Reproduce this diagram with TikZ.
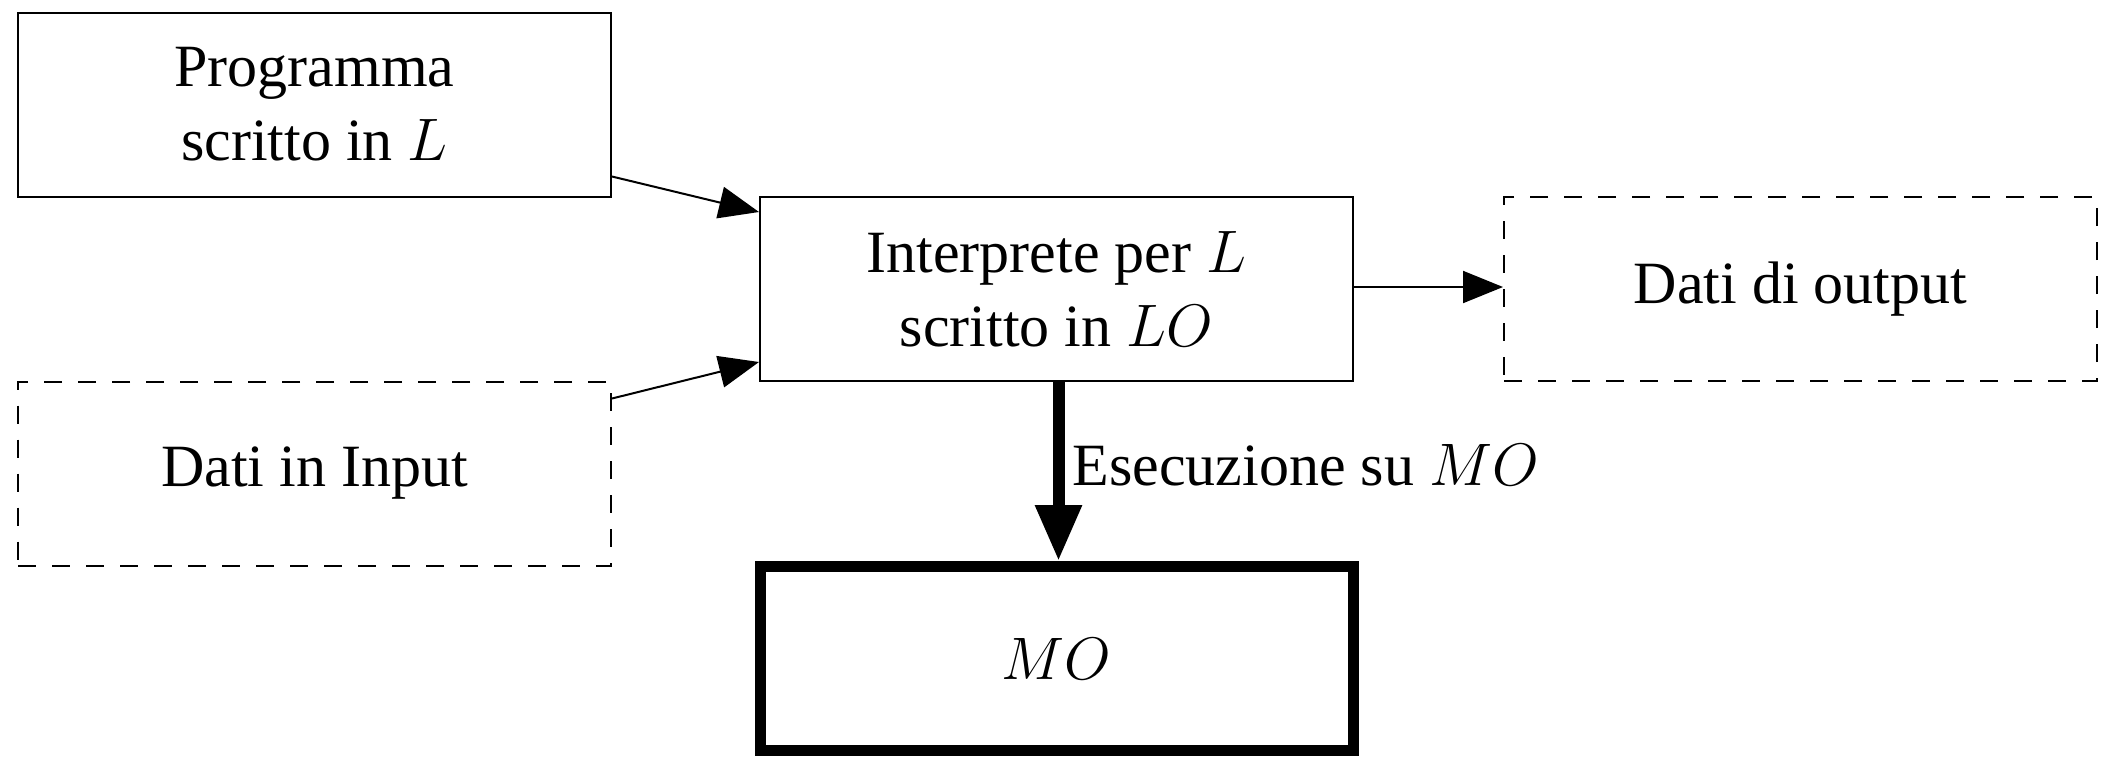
\RequirePackage{fix-cm}
\documentclass[tikz,border=0pt]{standalone}
\usepackage{fontspec}
\setmainfont{Liberation Serif}
\usetikzlibrary{arrows.meta}
\begin{document}
\begin{tikzpicture}[x=0.5pt,y=-0.5pt,
  box/.style={draw, line width=1pt, minimum width=296.5pt, minimum height=92pt, inner sep=0pt, align=center,
    font=\fontsize{30}{37}\selectfont},
  dbox/.style={box, dash pattern=on 9pt off 8pt},
  thickbox/.style={box, line width=5.5pt},
  thin/.style={line width=1pt, -{Triangle[length=20pt,width=16pt]}},
  fat/.style={line width=6pt, -{Triangle[length=28pt,width=22pt]}},
  lbl/.style={font=\fontsize{30}{37}\selectfont, inner sep=0pt}]
\useasboundingbox (0,0) rectangle (2113,767);
\node[box] (prog) at (314.5,104.5) {Programma\\scritto in $L$};
\node[box] (interp) at (1056.5,289) {Interprete per $L$\\scritto in $LO$};
\node[dbox] (out) at (1800.5,289) {Dati di output};
\node[dbox] (in) at (314.5,473.5) {Dati in Input};
\node[thickbox] (mo) at (1056.5,658.5) {$MO$};
\draw[thin] ([yshift=10.5pt]prog.south east) -- ([yshift=-8pt]interp.north west);
\draw[thin] ([yshift=-9pt]in.north east) -- ([yshift=10pt]interp.south west);
\draw[thin] ([yshift=1pt]interp.east) -- ([yshift=1pt]out.west);
\draw[fat] ([xshift=1pt]interp.south) -- node[lbl, anchor=west, xshift=4pt, yshift=3pt] (exe) {Esecuzione su $MO$} ([xshift=1pt]mo.north);
\end{tikzpicture}
\end{document}
